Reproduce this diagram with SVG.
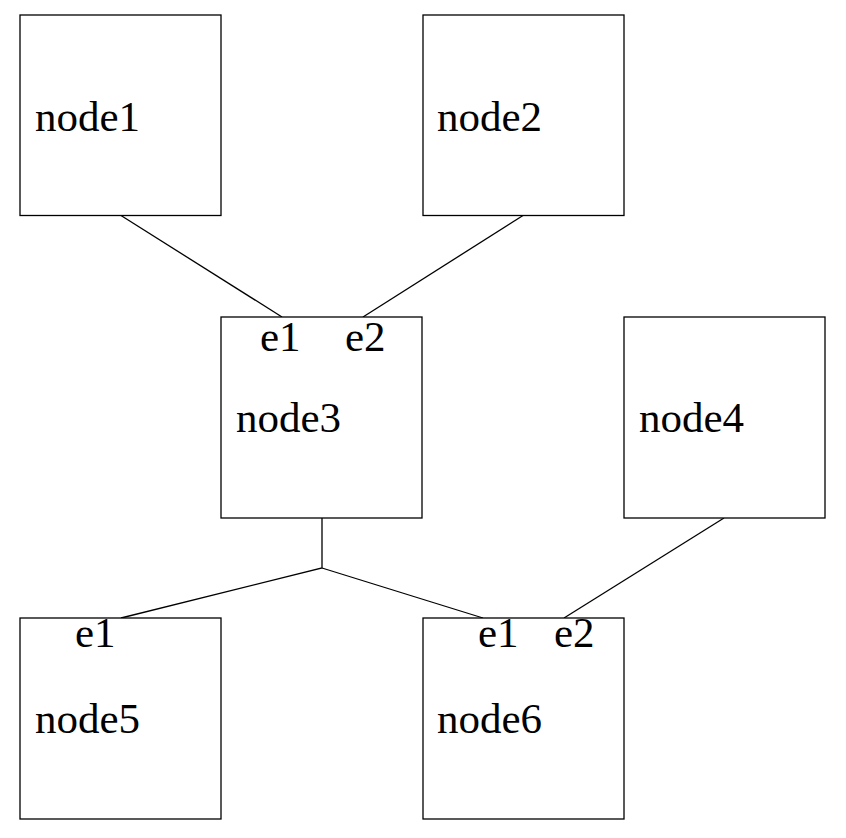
<svg xmlns="http://www.w3.org/2000/svg" width="846" height="838" viewBox="0 0 846 838">
<style>
.box{fill:#fff;stroke:#000;stroke-width:1.3}
.edge{fill:none;stroke:#000;stroke-width:1.3}
text{font-family:"Liberation Serif","DejaVu Serif",serif;font-size:43px;fill:#000}
</style>
<rect width="846" height="838" fill="#fff"/>
<g id="connectors">
<line class="edge" x1="121" y1="215.5" x2="282" y2="317"/>
<line class="edge" x1="523" y1="215.5" x2="363" y2="317"/>
<polyline class="edge" points="322,518 322,568 121,618"/>
<line class="edge" x1="322" y1="568" x2="483" y2="618"/>
<line class="edge" x1="724" y1="518" x2="564" y2="618"/>
</g>
<g id="node1"><rect class="box" x="20" y="15" width="201" height="200.5"/><text x="35" y="131">node1</text></g>
<g id="node2"><rect class="box" x="423" y="15" width="201" height="200.5"/><text x="437" y="131">node2</text></g>
<g id="node3"><rect class="box" x="221" y="317" width="201" height="201"/><text x="260" y="351">e1</text><text x="345" y="351">e2</text><text x="236" y="432">node3</text></g>
<g id="node4"><rect class="box" x="624" y="317" width="201" height="201"/><text x="639" y="432">node4</text></g>
<g id="node5"><rect class="box" x="20" y="618" width="201" height="201"/><text x="75" y="647">e1</text><text x="35" y="733">node5</text></g>
<g id="node6"><rect class="box" x="423" y="618" width="201" height="201"/><text x="478" y="647">e1</text><text x="554" y="647">e2</text><text x="437" y="733">node6</text></g>
</svg>
